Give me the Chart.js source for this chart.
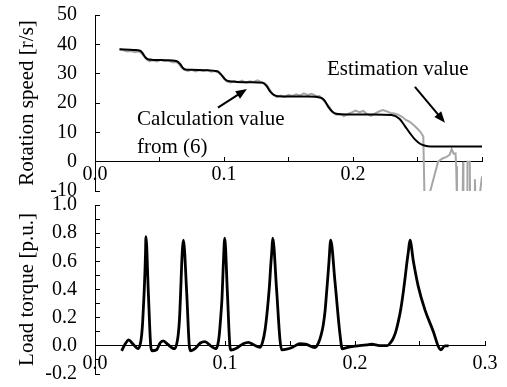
<!DOCTYPE html>
<html>
<head>
<meta charset="utf-8">
<script src="https://cdn.jsdelivr.net/npm/chart.js@4.4.1/dist/chart.umd.min.js"></script>
<style>
  html, body { margin: 0; padding: 0; background: #fff; }
  #wrap { position: relative; width: 507px; height: 387px; }
  #wrap div { position: absolute; left: 0; width: 507px; }
</style>
</head>
<body>
<div id="wrap">
  <div id="topBox" style="top:0;height:205px"><canvas id="speedChart"></canvas></div>
  <div id="botBox" style="top:190px;height:197px"><canvas id="torqueChart"></canvas></div>
</div>
<script>
// speed plot: calculation value from (6)
const calcTime = [0.019, 0.030, 0.035, 0.037, 0.039, 0.041, 0.045, 0.055, 0.063, 0.066, 0.068, 0.070, 0.075, 0.085, 0.095, 0.098, 0.101, 0.104, 0.110, 0.120, 0.130, 0.133, 0.136, 0.139, 0.142, 0.150, 0.165, 0.175, 0.178, 0.181, 0.184, 0.187, 0.195, 0.215, 0.230, 0.236, 0.240, 0.244, 0.248, 0.252, 0.256, 0.260, 0.270, 0.300];
const calcSpeed = [38.3, 38.1, 37.8, 36.9, 35.6, 34.9, 34.7, 34.6, 34.3, 33.3, 32.0, 31.4, 31.3, 31.2, 30.8, 29.6, 28.0, 27.4, 27.2, 27.1, 26.9, 25.8, 23.8, 22.7, 22.3, 22.2, 22.2, 21.8, 20.8, 18.6, 17.0, 16.3, 16.1, 16.1, 15.9, 14.6, 12.3, 9.8, 7.6, 6.1, 5.4, 5.2, 5.2, 5.2];

// speed plot: estimation value
const estTime = [0.019, 0.022, 0.025, 0.028, 0.031, 0.034, 0.036, 0.038, 0.040, 0.042, 0.045, 0.048, 0.051, 0.054, 0.057, 0.060, 0.063, 0.065, 0.067, 0.069, 0.072, 0.075, 0.078, 0.081, 0.084, 0.087, 0.090, 0.093, 0.096, 0.098, 0.100, 0.102, 0.105, 0.108, 0.111, 0.114, 0.117, 0.120, 0.123, 0.126, 0.129, 0.132, 0.134, 0.136, 0.138, 0.141, 0.144, 0.147, 0.150, 0.153, 0.156, 0.159, 0.162, 0.165, 0.168, 0.171, 0.174, 0.176, 0.178, 0.180, 0.182, 0.184, 0.187, 0.190, 0.193, 0.196, 0.199, 0.202, 0.205, 0.208, 0.211, 0.214, 0.217, 0.220, 0.223, 0.226, 0.229, 0.232, 0.235, 0.238, 0.241, 0.244, 0.247, 0.250, 0.2525, 0.2545, 0.2555, 0.2575, 0.2635, 0.2660, 0.2690, 0.2725, 0.2750, 0.2765, 0.2780, 0.2795, 0.2800, 0.2806, 0.2850, 0.2853, 0.2856, 0.2884, 0.2887, 0.2905, 0.2908, 0.2940, 0.2945, 0.2950, 0.2975, 0.3000];
const estSpeed = [38.3, 38.0, 37.6, 37.7, 37.3, 37.6, 37.0, 35.9, 34.9, 34.3, 34.6, 34.2, 34.7, 34.3, 34.5, 33.9, 34.0, 33.3, 32.2, 31.4, 30.9, 31.3, 30.8, 31.2, 30.9, 31.3, 30.7, 30.9, 30.3, 29.4, 28.3, 27.4, 27.0, 27.5, 27.1, 27.6, 26.9, 27.4, 27.2, 27.7, 27.1, 26.6, 25.6, 24.2, 22.9, 22.0, 22.5, 22.1, 22.8, 22.4, 23.0, 22.6, 23.3, 22.7, 23.1, 22.5, 22.4, 21.4, 20.5, 19.5, 18.4, 17.0, 16.0, 16.2, 15.5, 16.3, 16.8, 17.4, 16.9, 17.3, 16.2, 15.6, 16.4, 17.1, 17.6, 17.2, 16.6, 16.4, 16.0, 15.3, 14.2, 13.6, 12.5, 11.2, 10.0, 8.6, -14, -14, -4, 0.0, 1.0, 1.6, 2.4, 4.3, 2.7, 2.8, -1.6, -14, -14, 0, -14, -14, 0, 0, -14, -14, -6, -14, -14, -5];

// torque plot
const torqueTime = [0.0205, 0.0230, 0.0260, 0.0290, 0.0333, 0.0350, 0.0359, 0.0366, 0.0372, 0.0378, 0.0384, 0.0388, 0.0392, 0.0410, 0.0428, 0.0438, 0.0474, 0.0500, 0.0525, 0.0560, 0.0600, 0.0615, 0.0630, 0.0640, 0.0650, 0.0659, 0.0666, 0.0672, 0.0680, 0.0705, 0.0726, 0.0736, 0.0770, 0.0810, 0.0846, 0.0890, 0.0930, 0.0945, 0.0956, 0.0966, 0.0977, 0.0987, 0.0998, 0.1018, 0.1038, 0.1046, 0.1090, 0.1140, 0.1180, 0.1220, 0.1270, 0.1290, 0.1308, 0.1322, 0.1333, 0.1343, 0.1351, 0.1360, 0.1367, 0.1397, 0.1423, 0.1436, 0.1474, 0.1520, 0.1577, 0.1620, 0.1692, 0.1718, 0.1740, 0.1756, 0.1770, 0.1782, 0.1792, 0.1800, 0.1813, 0.1846, 0.1885, 0.1902, 0.1936, 0.2000, 0.2090, 0.2128, 0.2190, 0.2249, 0.2275, 0.2295, 0.2315, 0.2333, 0.2352, 0.2372, 0.2385, 0.2397, 0.2410, 0.2423, 0.2449, 0.2487, 0.2538, 0.2603, 0.2641, 0.2659, 0.2692, 0.2720];
const torqueValue = [-0.036, 0.010, 0.043, 0.015, -0.020, 0.020, 0.078, 0.160, 0.267, 0.380, 0.520, 0.640, 0.775, 0.385, 0.007, -0.035, -0.028, 0.020, 0.035, 0.010, -0.018, -0.020, 0.020, 0.078, 0.190, 0.385, 0.560, 0.680, 0.750, 0.385, -0.005, -0.035, -0.020, 0.020, 0.030, 0.000, -0.020, 0.010, 0.078, 0.190, 0.340, 0.575, 0.764, 0.385, -0.005, -0.030, -0.016, 0.015, 0.025, 0.008, -0.010, 0.030, 0.113, 0.220, 0.326, 0.440, 0.560, 0.670, 0.764, 0.397, 0.043, -0.028, -0.024, -0.010, 0.015, 0.012, -0.012, 0.019, 0.080, 0.149, 0.250, 0.385, 0.500, 0.600, 0.750, 0.456, 0.078, -0.021, -0.012, -0.002, 0.007, 0.012, 0.002, 0.002, 0.025, 0.055, 0.105, 0.172, 0.260, 0.385, 0.480, 0.575, 0.665, 0.750, 0.600, 0.420, 0.255, 0.100, -0.005, -0.028, 0.000, 0.000];

// annotation texts, placed in data units
const notes = [
  { text: 'Calculation value', x: 0.0326, y: 14.3 },
  { text: 'from (6)', x: 0.0326, y: 4.8 },
  { text: 'Estimation value', x: 0.1798, y: 31.3 }
];
const arrows = [
  { from: [0.0953, 18.4], to: [0.1178, 24.8] },
  { from: [0.2480, 25.5], to: [0.2713, 13.3] }
];

const SERIF = "'Liberation Serif', 'Times New Roman', serif";
Chart.defaults.font.family = SERIF;
Chart.defaults.color = '#000';
Chart.defaults.animation = false;

const toPoints = (xs, ys) => xs.map((x, i) => ({ x: x, y: ys[i] }));

const noteLayer = {
  id: 'noteLayer',
  afterDatasetsDraw(chart) {
    const { ctx, scales: { x, y } } = chart;
    ctx.save();
    ctx.fillStyle = '#000';
    ctx.strokeStyle = '#000';
    ctx.font = '21px ' + SERIF;
    ctx.textBaseline = 'middle';
    ctx.textAlign = 'left';
    notes.forEach((n) => {
      ctx.fillText(n.text, x.getPixelForValue(n.x), y.getPixelForValue(n.y));
    });
    arrows.forEach((a) => {
      const x1 = x.getPixelForValue(a.from[0]);
      const y1 = y.getPixelForValue(a.from[1]);
      const x2 = x.getPixelForValue(a.to[0]);
      const y2 = y.getPixelForValue(a.to[1]);
      const ang = Math.atan2(y2 - y1, x2 - x1);
      const head = 12;
      ctx.lineWidth = 2;
      ctx.beginPath();
      ctx.moveTo(x1, y1);
      ctx.lineTo(x2 - Math.cos(ang) * head * 0.8, y2 - Math.sin(ang) * head * 0.8);
      ctx.stroke();
      ctx.beginPath();
      ctx.moveTo(x2, y2);
      ctx.lineTo(x2 - head * Math.cos(ang - 0.38), y2 - head * Math.sin(ang - 0.38));
      ctx.lineTo(x2 - head * Math.cos(ang + 0.38), y2 - head * Math.sin(ang + 0.38));
      ctx.closePath();
      ctx.fill();
    });
    ctx.restore();
  }
};

// y axis: fixed width, and no extra label padding pushing the plot area in
const fixY = (scale) => {
  scale.width = 95;
  scale.paddingTop = 0;
  scale.paddingBottom = 0;
};
const fixX = (scale) => {
  scale.paddingLeft = 0;
  scale.paddingRight = 0;
};

const axisGrid = {
  drawOnChartArea: false,
  drawTicks: true,
  tickLength: -5,
  tickColor: '#000',
  tickWidth: 1
};

function draw() {
  new Chart(document.getElementById('speedChart'), {
    type: 'line',
    data: {
      datasets: [
        {
          label: 'Calculation value',
          data: toPoints(calcTime, calcSpeed),
          borderColor: '#000',
          borderWidth: 2,
          pointRadius: 0,
          cubicInterpolationMode: 'monotone'
        },
        {
          label: 'Estimation value',
          data: toPoints(estTime, estSpeed),
          borderColor: '#a6a6a6',
          borderWidth: 2,
          pointRadius: 0,
          tension: 0
        }
      ]
    },
    options: {
      responsive: true,
      maintainAspectRatio: false,
      layout: { padding: { top: 15, bottom: 14, left: 0, right: 25 } },
      plugins: { legend: { display: false }, tooltip: { enabled: false } },
      scales: {
        x: {
          type: 'linear',
          min: 0,
          max: 0.3,
          position: { y: 0 },
          afterFit: fixX,
          grid: axisGrid,
          border: { color: '#000', width: 1 },
          ticks: {
            stepSize: 0.05,
            autoSkip: false,
            maxRotation: 0,
            padding: 6,
            font: { size: 20 },
            callback: (v) => {
              const k = Math.round(v * 20);
              return (k % 2 === 0 && k < 6) ? (k / 20).toFixed(1) : '';
            }
          }
        },
        y: {
          min: -10,
          max: 50,
          afterFit: fixY,
          grid: axisGrid,
          border: { color: '#000', width: 1 },
          ticks: { stepSize: 10, padding: 23, font: { size: 20 } },
          title: {
            display: true,
            text: 'Rotation speed [r/s]',
            font: { size: 21 },
            padding: { top: 15, bottom: 0 }
          }
        }
      }
    },
    plugins: [noteLayer]
  });

  new Chart(document.getElementById('torqueChart'), {
    type: 'line',
    data: {
      datasets: [
        {
          label: 'Load torque',
          data: toPoints(torqueTime, torqueValue),
          borderColor: '#000',
          borderWidth: 2.8,
          pointRadius: 0,
          cubicInterpolationMode: 'monotone'
        }
      ]
    },
    options: {
      responsive: true,
      maintainAspectRatio: false,
      layout: { padding: { top: 15, bottom: 13, left: 0, right: 22 } },
      plugins: { legend: { display: false }, tooltip: { enabled: false } },
      scales: {
        x: {
          type: 'linear',
          min: 0,
          max: 0.3,
          position: { y: 0 },
          afterFit: fixX,
          grid: axisGrid,
          border: { color: '#000', width: 1 },
          ticks: {
            stepSize: 0.05,
            autoSkip: false,
            maxRotation: 0,
            padding: 11,
            font: { size: 20 },
            callback: (v) => {
              const k = Math.round(v * 20);
              return k % 2 === 0 ? (k / 20).toFixed(1) : '';
            }
          }
        },
        y: {
          min: -0.2,
          max: 1.0,
          afterFit: fixY,
          grid: axisGrid,
          border: { color: '#000', width: 1 },
          ticks: {
            stepSize: 0.1,
            autoSkip: false,
            padding: 23,
            font: { size: 20 },
            callback: (v) => {
              const k = Math.round(v * 10);
              return k % 2 === 0 ? (k / 10).toFixed(1) : '';
            }
          },
          title: {
            display: true,
            text: 'Load torque [p.u.]',
            font: { size: 21 },
            padding: { top: 15, bottom: 0 }
          }
        }
      }
    }
  });
}

if (document.fonts && document.fonts.load) {
  document.fonts.load("20px 'Liberation Serif'").then(draw, draw);
} else {
  draw();
}
</script>
</body>
</html>
